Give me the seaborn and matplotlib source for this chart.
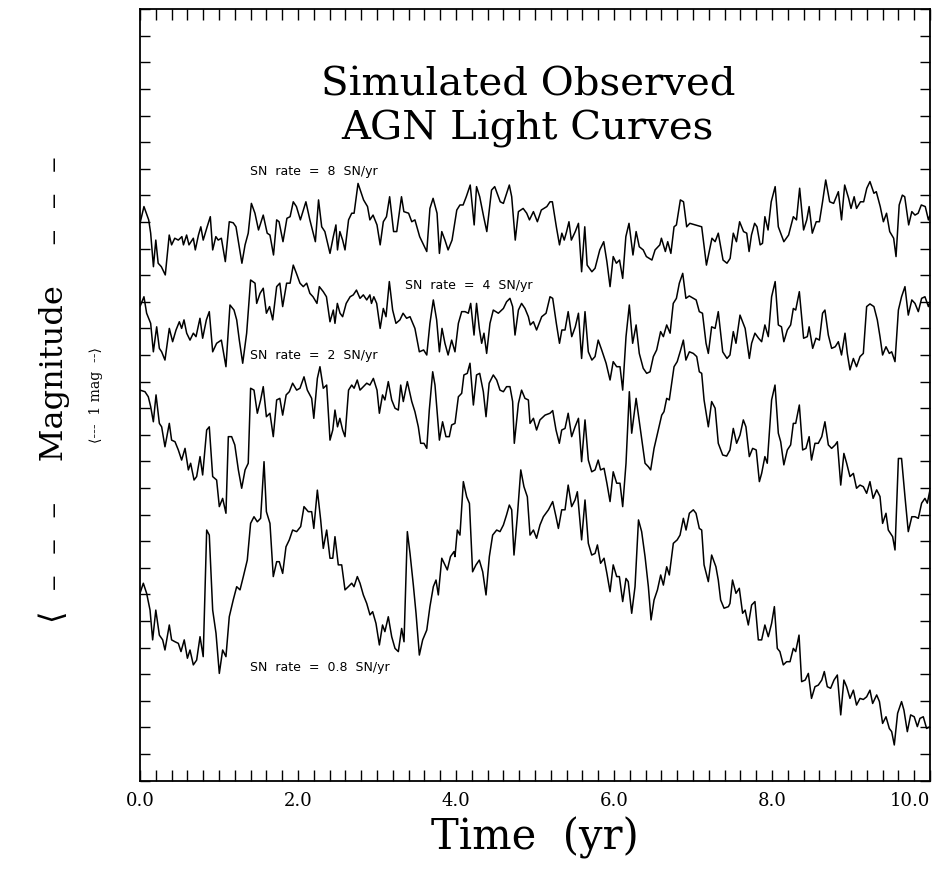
import matplotlib
matplotlib.use("Agg")
import matplotlib.pyplot as plt
from matplotlib.ticker import MultipleLocator, NullFormatter
import numpy as np
import pandas as pd
import seaborn as sns

# ---------------- data (time in yr, magnitude offset; larger = lower on plot) -------------
time_8 = [0.0, 0.05, 0.11, 0.135, 0.17, 0.20, 0.23, 0.27, 0.32, 0.37, 0.40, 0.44, 0.485, 0.53, 0.55,
          0.59, 0.62, 0.675, 0.70, 0.74, 0.77, 0.80, 0.85, 0.89, 0.92, 0.96, 0.99, 1.03, 1.08, 1.13,
          1.18, 1.215, 1.29, 1.33, 1.37, 1.41, 1.455, 1.50, 1.56, 1.61, 1.645, 1.69, 1.73, 1.76, 1.81,
          1.86, 1.90, 1.94, 1.98, 2.03, 2.10, 2.15, 2.22, 2.26, 2.30, 2.34,
          2.405, 2.447, 2.48, 2.50, 2.53, 2.565, 2.595, 2.64, 2.68, 2.71, 2.76, 2.83, 2.88, 2.91, 2.95,
          3.00, 3.04, 3.08, 3.12, 3.16, 3.21, 3.25, 3.31, 3.34, 3.40, 3.44, 3.48, 3.54, 3.63, 3.67,
          3.71, 3.76, 3.79, 3.82, 3.86, 3.90, 3.95, 4.01, 4.05, 4.09, 4.13, 4.18, 4.23, 4.26, 4.30,
          4.35, 4.39, 4.45, 4.49, 4.56, 4.60, 4.675, 4.705, 4.75, 4.79, 4.85, 4.895, 4.93,
          4.98, 5.03, 5.08, 5.15, 5.19, 5.22, 5.27, 5.31, 5.34, 5.37, 5.40, 5.43, 5.46, 5.51, 5.55,
          5.59, 5.63, 5.66, 5.72, 5.76, 5.82, 5.87, 5.91, 5.95, 5.99, 6.03, 6.07, 6.11, 6.15, 6.19,
          6.24, 6.28, 6.32, 6.37, 6.41, 6.48, 6.52, 6.58, 6.60, 6.65, 6.68, 6.72, 6.76, 6.79, 6.84,
          6.88, 6.92, 6.96, 7.03, 7.11, 7.17, 7.24, 7.28, 7.32, 7.38, 7.43,
          7.47, 7.51, 7.55, 7.59, 7.64, 7.68, 7.71, 7.74, 7.78, 7.81, 7.85, 7.88, 7.91, 7.95, 7.99,
          8.04, 8.08, 8.15, 8.21, 8.27, 8.31, 8.35, 8.40, 8.44, 8.47, 8.51, 8.56, 8.60, 8.64, 8.68,
          8.73, 8.78, 8.84, 8.88, 8.92, 8.97, 9.00, 9.04, 9.07, 9.12, 9.16, 9.20, 9.24, 9.29, 9.32,
          9.37, 9.41, 9.45, 9.49, 9.54, 9.57, 9.61, 9.65, 9.68, 9.73, 9.77, 9.81, 9.85, 9.89, 9.94,
          9.98, 10.0]
mag_8 = [8.05, 7.42, 7.92, 8.42, 9.68, 8.68, 9.55, 9.68, 9.99, 8.49, 8.86, 8.61, 8.68, 8.55, 8.86,
         8.49, 8.86, 8.61, 9.05, 8.49, 8.18, 8.68, 8.18, 7.80, 9.05, 8.55, 8.68, 8.61, 9.49, 7.99,
         8.03, 8.18, 9.55, 8.86, 8.42, 7.30, 7.67, 8.30, 7.74, 8.42, 8.49, 9.24, 7.92, 7.99, 8.74,
         7.86, 7.80, 7.24, 7.42, 7.92, 7.24, 7.92, 8.74, 7.17, 8.18, 8.36,
         9.18, 8.55, 8.11, 9.05, 8.36, 8.68, 9.05, 7.92, 7.67, 7.67, 6.55, 7.17, 7.42, 7.92, 7.74,
         8.11, 8.86, 7.99, 7.80, 7.05, 8.36, 8.36, 7.05, 7.61, 7.67, 7.99, 7.92, 8.55, 9.11, 7.49,
         7.11, 7.67, 9.18, 8.36, 8.68, 9.05, 8.68, 7.55, 7.36, 7.36, 7.05, 6.61, 8.11, 6.67, 7.05,
         7.80, 8.36, 6.80, 6.67, 7.24, 7.30, 6.61, 7.05, 8.68, 7.61, 7.49, 7.67, 7.92,
         7.61, 7.99, 7.55, 7.42, 7.24, 7.24, 8.18, 8.86, 8.42, 8.68, 8.36, 7.99, 8.68, 8.36, 8.05,
         9.87, 8.18, 9.62, 9.87, 9.74, 9.05, 8.74, 9.49, 10.43, 9.30, 9.55, 9.43, 10.12, 8.55, 8.05,
         9.24, 8.36, 8.93, 9.05, 9.30, 9.43, 9.05, 8.86, 8.61, 9.11, 8.74, 9.18, 8.18, 8.11, 7.17,
         7.24, 8.18, 8.05, 8.11, 8.18, 9.62, 8.61, 8.74, 8.42, 9.43, 9.55,
         9.37, 8.42, 8.74, 7.99, 8.36, 8.42, 9.11, 8.49, 8.05, 8.18, 8.86, 8.80, 7.80, 8.30, 7.24,
         6.67, 8.18, 8.74, 8.49, 7.80, 7.92, 6.73, 8.30, 7.92, 7.42, 8.42, 7.99, 7.99, 7.24, 6.42,
         7.24, 7.30, 6.86, 7.92, 6.61, 7.11, 7.49, 7.05, 7.49, 7.24, 7.24, 6.73, 6.48, 6.92, 6.86,
         7.42, 7.99, 7.67, 8.36, 8.61, 9.30, 7.36, 6.99, 7.05, 8.11, 7.61, 7.74, 7.67, 7.36, 7.42,
         7.92, 7.74]

time_4 = [0.0, 0.05, 0.084, 0.135, 0.169, 0.211, 0.245, 0.274, 0.316, 0.371, 0.413, 0.456, 0.498, 0.527,
          0.557, 0.591, 0.633, 0.675, 0.709, 0.759, 0.793, 0.84, 0.877, 0.92, 0.97, 1.03, 1.088, 1.139,
          1.19, 1.224, 1.257, 1.30, 1.35, 1.40, 1.456, 1.477, 1.52, 1.56, 1.60, 1.64, 1.68, 1.73, 1.77,
          1.806, 1.856, 1.90, 1.94, 1.98, 2.025, 2.067, 2.11, 2.15, 2.19, 2.24, 2.27, 2.32, 2.36,
          2.405, 2.447, 2.468, 2.498, 2.532, 2.565, 2.61, 2.66, 2.70, 2.74, 2.785, 2.827, 2.87, 2.91,
          2.93, 2.96, 2.996, 3.04, 3.08, 3.114, 3.156, 3.198, 3.24, 3.29, 3.33, 3.375, 3.418, 3.48,
          3.536, 3.59, 3.63, 3.67, 3.713, 3.755, 3.79, 3.823, 3.86, 3.90, 3.945, 3.987, 4.03, 4.072,
          4.114, 4.156, 4.186, 4.228, 4.26, 4.295, 4.325, 4.354, 4.388, 4.43, 4.472, 4.536, 4.60,
          4.64, 4.683, 4.717, 4.747, 4.79, 4.83, 4.873, 4.916,
          4.94, 4.98, 5.02, 5.085, 5.14, 5.19, 5.224, 5.27, 5.31, 5.34, 5.38, 5.42, 5.465, 5.51, 5.55,
          5.59, 5.633, 5.675, 5.72, 5.76, 5.80, 5.844, 5.90, 5.95, 5.99, 6.034, 6.076, 6.11, 6.152,
          6.194, 6.236, 6.28, 6.32, 6.37, 6.414, 6.456, 6.498, 6.54, 6.59, 6.625, 6.667, 6.71, 6.75,
          6.79, 6.827, 6.87, 6.91, 6.953, 7.004, 7.04, 7.08, 7.12, 7.165, 7.194, 7.236, 7.28, 7.32,
          7.376, 7.43,
          7.468, 7.51, 7.544, 7.595, 7.66, 7.713, 7.742, 7.784, 7.83, 7.869, 7.91, 7.953, 7.995, 8.04,
          8.08, 8.12, 8.15, 8.194, 8.236, 8.27, 8.30, 8.346, 8.40, 8.447, 8.47, 8.515, 8.557, 8.60,
          8.64, 8.67, 8.713, 8.755, 8.80, 8.84, 8.88, 8.924, 8.953, 8.987, 9.03, 9.07, 9.114, 9.156,
          9.198, 9.24, 9.29, 9.333, 9.367, 9.40, 9.443, 9.485, 9.515, 9.557, 9.60, 9.64, 9.683, 9.725,
          9.77, 9.81, 9.852, 9.894, 9.936, 9.98, 10.0]
mag_4 = [11.18, 10.81, 11.43, 11.81, 12.88, 11.94, 12.75, 12.88, 13.19, 12.00, 12.50, 12.06, 11.75, 12.00,
         11.68, 12.18, 12.44, 12.18, 12.31, 11.62, 12.37, 11.68, 11.37, 12.88, 12.56, 12.44, 13.44, 11.12,
         11.31, 11.68, 12.44, 13.31, 12.18, 10.18, 10.30, 11.06, 10.68, 10.49, 11.43, 11.18, 11.68, 10.43,
         10.30, 11.18, 10.30, 10.30, 9.62, 9.93, 10.30, 10.43, 10.30, 10.68, 10.81, 11.06, 10.43, 10.62,
         10.81,
         11.75, 11.31, 11.81, 11.06, 11.43, 11.56, 11.06, 10.81, 10.74, 10.56, 10.87, 10.74, 10.93, 10.74,
         11.06, 10.81, 11.06, 12.00, 11.25, 11.56, 10.24, 11.31, 11.81, 11.68, 11.43, 11.62, 11.56, 12.00,
         12.88, 12.81, 13.00, 11.81, 10.93, 11.68, 12.88, 12.00, 12.56, 13.00, 12.44, 12.88, 11.81, 11.37,
         11.37, 11.43, 11.06, 12.25, 11.06, 12.00, 12.56, 12.18, 12.94, 11.81, 11.31, 11.43, 11.25,
         11.00, 10.87, 11.18, 12.25, 11.31, 11.06, 11.25, 11.56,
         11.87, 11.75, 12.06, 11.56, 11.43, 10.81, 10.87, 11.81, 12.56, 12.06, 12.06, 11.37, 12.31, 11.94,
         11.43, 13.13, 11.37, 12.88, 13.19, 13.06, 12.44, 12.81, 13.31, 13.94, 13.25, 13.44, 13.44, 14.32,
         12.31, 11.12, 12.56, 11.87, 12.94, 13.50, 13.69, 13.63, 13.06, 12.81, 12.12, 12.31, 11.87, 12.18,
         11.06, 10.87, 10.30, 9.93, 10.87, 10.78, 10.87, 10.93, 11.37, 11.43, 12.56, 12.94, 11.94, 12.00,
         11.37, 12.88, 13.13,
         13.00, 12.12, 12.56, 11.50, 12.00, 13.13, 12.56, 12.18, 12.37, 12.50, 11.87, 12.31, 10.81, 10.24,
         11.87, 11.94, 12.50, 12.06, 11.87, 11.25, 11.31, 10.62, 12.37, 12.31, 11.94, 12.75, 12.37, 12.44,
         11.43, 11.31, 12.25, 12.75, 12.69, 12.50, 13.00, 12.18, 12.94, 13.56, 13.13, 13.44, 13.06, 12.94,
         11.18, 11.08, 11.18, 11.68, 12.31, 13.00, 12.69, 12.94, 12.88, 13.25, 11.31, 10.81, 10.43, 11.50,
         10.93, 11.06, 11.37, 10.87, 10.81, 11.18, 11.00]

time_2 = [0.0, 0.063, 0.105, 0.135, 0.169, 0.203, 0.245, 0.274, 0.316, 0.371, 0.40, 0.443, 0.485, 0.527,
          0.57, 0.612, 0.641, 0.684, 0.717, 0.76, 0.793, 0.844, 0.877, 0.92, 0.97, 1.004, 1.046, 1.088,
          1.118, 1.16, 1.20, 1.245, 1.287, 1.33, 1.37, 1.40, 1.443, 1.485, 1.527, 1.56, 1.60, 1.645,
          1.687, 1.73, 1.77, 1.806, 1.85, 1.89, 1.932, 1.983, 2.025, 2.076, 2.118, 2.173, 2.20, 2.245,
          2.278, 2.32, 2.363,
          2.405, 2.44, 2.468, 2.50, 2.53, 2.565, 2.595, 2.64, 2.68, 2.71, 2.75, 2.785, 2.827, 2.87, 2.91,
          2.954, 3.0, 3.03, 3.07, 3.10, 3.143, 3.186, 3.228, 3.27, 3.30, 3.333, 3.384, 3.44, 3.48, 3.523,
          3.553, 3.595, 3.63, 3.662, 3.705, 3.734, 3.79, 3.83, 3.873, 3.915, 3.945, 3.987, 4.03, 4.072,
          4.10, 4.143, 4.177, 4.22, 4.26, 4.30, 4.346, 4.38, 4.42, 4.472, 4.515, 4.557, 4.60, 4.64,
          4.683, 4.717, 4.738, 4.79, 4.83, 4.873, 4.916,
          4.937, 4.98, 5.02, 5.063, 5.127, 5.19, 5.224, 5.266, 5.308, 5.338, 5.38, 5.42, 5.464, 5.507,
          5.55, 5.59, 5.633, 5.675, 5.718, 5.76, 5.80, 5.83, 5.874, 5.91, 5.95, 5.99, 6.034, 6.076, 6.11,
          6.152, 6.194, 6.224, 6.28, 6.33, 6.393, 6.435, 6.464, 6.507, 6.56, 6.604, 6.633, 6.667, 6.70,
          6.76, 6.80, 6.844, 6.878, 6.91, 6.954, 7.004, 7.047, 7.08, 7.11, 7.14, 7.194, 7.236, 7.28, 7.32,
          7.376, 7.426,
          7.468, 7.51, 7.552, 7.595, 7.637, 7.67, 7.713, 7.755, 7.80, 7.84, 7.869, 7.91, 7.94, 7.995,
          8.038, 8.08, 8.11, 8.15, 8.194, 8.236, 8.27, 8.30, 8.346, 8.388, 8.43, 8.47, 8.50, 8.544, 8.586,
          8.63, 8.67, 8.713, 8.755, 8.80, 8.827, 8.87, 8.91, 8.945, 8.987, 9.03, 9.07, 9.114, 9.156,
          9.198, 9.24, 9.28, 9.325, 9.367, 9.40, 9.443, 9.472, 9.527, 9.557, 9.60, 9.64, 9.683, 9.725,
          9.77, 9.81, 9.852, 9.894, 9.936, 9.966, 10.0]
mag_2 = [14.32, 14.38, 14.57, 14.94, 15.51, 14.50, 15.57, 15.70, 16.45, 15.57, 16.20, 16.26, 16.57, 16.95,
         16.51, 17.32, 17.07, 17.70, 17.57, 16.82, 17.51, 15.82, 15.70, 17.57, 17.70, 18.70, 18.39, 18.95,
         16.07, 16.07, 16.38, 17.32, 18.01, 17.32, 17.07, 14.25, 14.32, 15.19, 14.69, 14.19, 15.32, 15.19,
         16.07, 14.69, 14.63, 15.26, 14.50, 14.38, 14.06, 14.32, 14.25, 13.82, 14.32, 14.63, 15.38, 13.88,
         13.44, 14.25, 14.13,
         16.20, 15.82, 15.07, 15.70, 15.38, 15.82, 16.07, 14.32, 14.13, 14.25, 13.94, 14.32, 14.19, 14.06,
         14.13, 13.88, 14.32, 15.19, 14.50, 14.69, 14.00, 14.69, 15.00, 15.07, 14.13, 14.75, 14.00, 14.75,
         15.13, 15.70, 16.32, 16.32, 16.51, 15.07, 13.63, 14.13, 16.20, 15.51, 16.07, 16.07, 15.63, 15.57,
         14.57, 14.44, 13.75, 13.69, 13.31, 14.88, 13.75, 13.69, 14.38, 15.32, 14.06, 13.75, 13.94, 14.32,
         14.38, 14.19, 14.19, 14.75, 16.32, 14.82, 14.32, 14.63, 14.69,
         15.57, 15.38, 15.82, 15.44, 15.26, 15.19, 15.09, 15.82, 16.32, 15.82, 15.76, 15.19, 16.07, 15.70,
         15.38, 17.01, 15.44, 16.95, 17.39, 17.32, 16.95, 17.32, 17.26, 17.82, 18.51, 17.39, 17.82, 17.82,
         18.70, 17.07, 14.38, 15.94, 14.63, 15.70, 17.07, 17.20, 17.32, 16.51, 15.82, 15.26, 15.13, 14.63,
         14.69, 13.44, 13.25, 12.81, 12.44, 13.19, 12.88, 12.94, 13.06, 13.63, 13.69, 14.69, 15.70, 14.75,
         15.00, 16.32, 16.76, 16.80,
         16.57, 15.76, 16.32, 16.01, 15.44, 15.70, 16.82, 16.51, 16.57, 17.76, 17.45, 16.82, 17.07, 14.69,
         14.13, 15.94, 16.26, 17.13, 16.57, 16.38, 15.57, 15.57, 14.88, 16.57, 16.51, 16.07, 16.95, 16.32,
         16.32, 16.07, 15.51, 16.38, 16.51, 16.38, 16.26, 17.89, 16.70, 17.07, 17.57, 17.45, 18.01, 17.89,
         17.95, 18.20, 17.76, 18.39, 18.07, 18.32, 19.33, 18.95, 19.58, 19.83, 20.33, 16.89, 16.89, 18.32,
         19.64, 19.08, 19.08, 19.14, 18.57, 18.39, 18.57, 18.07]

time_08 = [0.0, 0.042, 0.084, 0.127, 0.16, 0.20, 0.245, 0.287, 0.316, 0.371, 0.40, 0.443, 0.485, 0.519,
           0.56, 0.60, 0.633, 0.675, 0.717, 0.76, 0.80, 0.844, 0.877, 0.92, 0.962, 1.004, 1.046, 1.088,
           1.13, 1.18, 1.224, 1.266, 1.308, 1.358, 1.40, 1.443, 1.485, 1.527, 1.57, 1.60, 1.645, 1.687,
           1.73, 1.763, 1.806, 1.848, 1.89, 1.932, 1.983, 2.034, 2.076, 2.13, 2.173, 2.20, 2.245, 2.287,
           2.32, 2.363,
           2.405, 2.44, 2.468, 2.51, 2.553, 2.595, 2.637, 2.68, 2.709, 2.751, 2.785, 2.827, 2.87, 2.911,
           2.945, 2.987, 3.03, 3.07, 3.10, 3.143, 3.186, 3.228, 3.27, 3.312, 3.342, 3.384, 3.418, 3.46,
           3.494, 3.536, 3.578, 3.63, 3.67, 3.713, 3.747, 3.776, 3.82, 3.86, 3.89, 3.93, 3.975, 3.987,
           4.017, 4.05, 4.093, 4.135, 4.17, 4.21, 4.253, 4.295, 4.338, 4.38, 4.422, 4.464, 4.515, 4.557,
           4.60, 4.64, 4.675, 4.705, 4.734, 4.776, 4.82, 4.86, 4.903,
           4.937, 4.98, 5.02, 5.063, 5.106, 5.17, 5.224, 5.266, 5.296, 5.338, 5.38, 5.42, 5.464, 5.507,
           5.536, 5.59, 5.633, 5.675, 5.718, 5.76, 5.79, 5.83, 5.874, 5.91, 5.95, 5.99, 6.034, 6.068,
           6.11, 6.152, 6.18, 6.224, 6.266, 6.31, 6.35, 6.393, 6.435, 6.469, 6.507, 6.55, 6.591, 6.625,
           6.667, 6.70, 6.751, 6.80, 6.836, 6.878, 6.912, 6.954, 7.004, 7.038, 7.08, 7.11, 7.14, 7.194,
           7.236, 7.29, 7.32, 7.35, 7.393, 7.448,
           7.468, 7.50, 7.544, 7.586, 7.628, 7.66, 7.70, 7.742, 7.784, 7.827, 7.869, 7.91, 7.953, 7.995,
           8.03, 8.067, 8.10, 8.143, 8.185, 8.228, 8.27, 8.30, 8.342, 8.375, 8.42, 8.46, 8.50, 8.544,
           8.586, 8.63, 8.662, 8.70, 8.742, 8.785, 8.827, 8.87, 8.91, 8.945, 8.987, 9.03, 9.07, 9.114,
           9.156, 9.198, 9.24, 9.274, 9.325, 9.36, 9.40, 9.443, 9.485, 9.515, 9.548, 9.59, 9.64, 9.67,
           9.713, 9.755, 9.80, 9.84, 9.873, 9.915, 9.957, 10.0]
mag_08 = [21.96, 21.58, 21.96, 22.59, 23.71, 22.59, 23.53, 23.71, 24.09, 23.15, 23.71, 23.78, 23.84, 24.15,
          23.71, 24.40, 24.09, 24.65, 24.47, 23.59, 24.34, 19.58, 19.77, 22.59, 23.46, 24.97, 24.09, 24.34,
          22.84, 22.21, 21.71, 21.83, 21.33, 20.71, 19.33, 19.08, 19.27, 19.14, 17.01, 18.89, 19.33, 21.33,
          20.77, 20.77, 21.21, 20.21, 19.95, 19.58, 19.64, 19.45, 18.70, 18.89, 18.89, 19.52, 18.08, 19.20,
          20.27, 19.58,
          20.64, 20.64, 19.83, 20.89, 20.89, 21.83, 21.71, 21.58, 21.71, 21.33, 21.58, 22.02, 22.34, 22.77,
          22.65, 23.09, 23.90, 23.15, 23.40, 22.84, 23.59, 24.03, 24.15, 23.28, 23.78, 19.64, 20.46, 21.65,
          22.71, 24.28, 23.71, 23.34, 22.46, 21.71, 21.46, 22.02, 20.64, 20.89, 21.08, 20.58, 20.39, 20.58,
          19.58, 19.77, 17.76, 18.33, 18.58, 21.15, 20.89, 20.71, 21.15, 22.02, 20.58, 19.77, 19.58, 19.64,
          19.39, 19.01, 18.64, 18.82, 20.52, 19.08, 17.32, 17.95, 18.33,
          19.77, 19.58, 19.89, 19.39, 19.08, 18.82, 18.51, 19.08, 19.52, 18.82, 18.82, 17.89, 18.70, 18.45,
          18.14, 19.95, 18.45, 20.08, 20.52, 20.46, 20.14, 20.83, 20.64, 21.21, 21.90, 20.89, 21.33, 21.33,
          22.27, 21.40, 21.52, 22.71, 21.71, 19.20, 19.64, 20.58, 21.71, 22.96, 22.21, 21.83, 21.27, 21.65,
          20.96, 21.27, 20.08, 19.95, 19.77, 19.14, 19.58, 18.95, 18.82, 18.95, 19.52, 19.58, 20.89, 21.52,
          20.52, 20.96, 21.46, 22.21, 22.52, 22.46,
          22.34, 21.46, 21.96, 21.77, 22.71, 22.59, 23.15, 22.40, 22.27, 23.71, 23.71, 23.15, 23.59, 23.09,
          22.46, 24.03, 24.15, 24.65, 24.53, 24.53, 24.03, 24.15, 23.53, 25.28, 25.22, 24.97, 25.91, 25.47,
          25.41, 25.22, 24.90, 25.47, 25.53, 25.22, 25.03, 26.53, 25.22, 25.47, 25.91, 25.60, 26.16, 25.91,
          25.95, 25.85, 25.60, 26.10, 25.78, 26.03, 26.85, 26.60, 27.04, 27.16, 27.66, 26.47, 26.03, 26.35,
          27.16, 26.53, 26.60, 26.97, 26.66, 26.60, 27.04, 26.97]

rate_labels = ["SN  rate  =  8  SN/yr", "SN  rate  =  4  SN/yr", "SN  rate  =  2  SN/yr",
               "SN  rate  =  0.8  SN/yr"]
label_pos = [(1.39, 6.12), (3.35, 10.37), (1.39, 13.0), (1.39, 24.73)]
x_ticks = [0, 2, 4, 6, 8, 10]
x_tick_labels = ["0.0", "2.0", "4.0", "6.0", "8.0", "10.0"]
title_lines = ["Simulated Observed", "AGN Light Curves"]

# ---------------- build table ----------------
frames = []
for name, t, m in [("8", time_8, mag_8), ("4", time_4, mag_4),
                   ("2", time_2, mag_2), ("0.8", time_08, mag_08)]:
    frames.append(pd.DataFrame({"time": t, "mag": m, "rate": name}))
df = pd.concat(frames, ignore_index=True)

# ---------------- plot ----------------
sns.set_style("ticks")
plt.rcParams["font.family"] = ["DejaVu Serif", "DejaVu Sans"]
plt.rcParams["text.color"] = "black"
plt.rcParams["axes.labelcolor"] = "black"
plt.rcParams["xtick.color"] = "black"
plt.rcParams["ytick.color"] = "black"

fig = plt.figure(figsize=(9.45, 8.73), dpi=100)
ax = fig.add_axes([140 / 945, 1 - 780.6 / 873, 790 / 945, (780.6 - 9.2) / 873])

sns.lineplot(data=df, x="time", y="mag", hue="rate", units="rate", estimator=None, sort=False,
             palette=["black"] * 4, linewidth=1.1, legend=False, ax=ax)

ax.set_xlim(0, 10)
ax.set_ylim(29, 0)
for s in ax.spines.values():
    s.set_visible(True)
    s.set_linewidth(1.3)
    s.set_color("black")

ax.set_xticks(x_ticks)
ax.set_xticklabels(x_tick_labels, fontsize=13, color="black")
ax.get_xticklabels()[-1].set_horizontalalignment("right")
ax.xaxis.set_minor_locator(MultipleLocator(0.2))
ax.yaxis.set_major_locator(MultipleLocator(1))
ax.yaxis.set_major_formatter(NullFormatter())
ax.tick_params(axis="both", which="both", direction="in", top=True, right=True,
               width=1.0, color="black")
ax.tick_params(axis="x", which="major", length=8, pad=8)
ax.tick_params(axis="x", which="minor", length=8)
ax.tick_params(axis="y", which="major", length=7)

ax.set_xlabel("Time  (yr)", fontsize=30, labelpad=5, color="black")
ax.set_ylabel("")

for line, yy in zip(title_lines, [2.85, 4.5]):
    ax.text(4.91, yy, line, ha="center", va="center", fontsize=29, color="black")

for txt, (tx, ty) in zip(rate_labels, label_pos):
    ax.text(tx, ty, txt, ha="left", va="center", fontsize=9, family="DejaVu Sans", color="black")

fig.text(54 / 945, 1 - 390 / 873, "\u27e8  \u2013  \u2013  \u2013    Magnitude    \u2013  \u2013  \u2013",
         rotation=90, ha="center", va="center", fontsize=23, color="black")
fig.text(96 / 945, 1 - 395 / 873, "\u27e8---  1 mag  --\u27e9", rotation=90, ha="center",
         va="center", fontsize=10, color="black")

fig.savefig("out.png", dpi=100, facecolor="white")
